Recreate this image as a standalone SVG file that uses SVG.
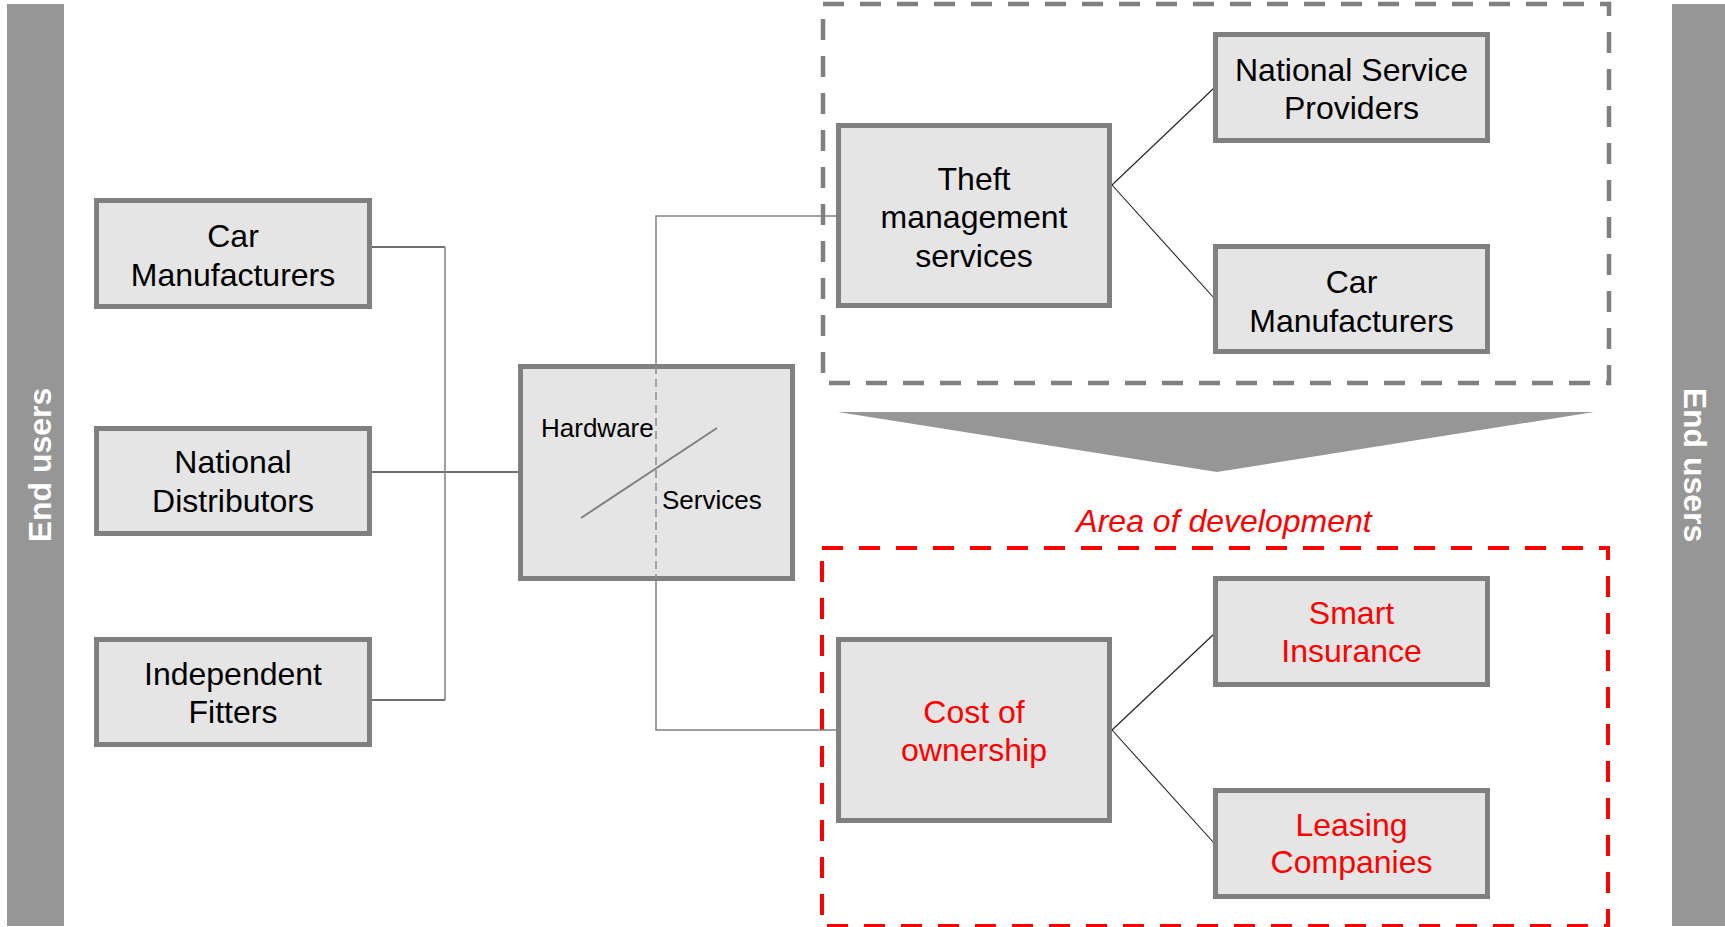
<svg xmlns="http://www.w3.org/2000/svg" width="1725" height="927" viewBox="0 0 1725 927">
<style>
.bar{fill:#969696}
.box{fill:#e5e5e5;stroke:#808080;stroke-width:5}
.t{font-family:"Liberation Sans",Arial,sans-serif;font-size:32px;fill:#000;text-anchor:middle}
.r{fill:#ff0000}
.eu{font-family:"Liberation Sans",Arial,sans-serif;font-size:32px;font-weight:bold;fill:#fff;text-anchor:middle}
.h{stroke:#404040;stroke-width:1.3;fill:none}
.v{stroke:#808080;stroke-width:1.5;fill:none}
.fan{stroke:#222;stroke-width:1.1;fill:none}
</style>
<rect width="1725" height="927" fill="#fff"/>
<g id="end-users-left">
<rect class="bar" x="7" y="4" width="57" height="922"/>
<text class="eu" transform="translate(51,465) rotate(-90)">End users</text>
</g>
<g id="end-users-right">
<rect class="bar" x="1672" y="4" width="53" height="922"/>
<text class="eu" transform="translate(1684,465) rotate(90)">End users</text>
</g>
<g id="current-area">
<rect x="823" y="4" width="786" height="379" fill="none" stroke="#808080" stroke-width="4.5" stroke-dasharray="21 16"/>
</g>
<g id="arrow">
<polygon class="bar" points="838,412 1594,412 1217,472"/>
</g>
<g id="area-of-development">
<text x="1224" y="532" font-family="'Liberation Sans',Arial,sans-serif" font-size="32" font-style="italic" fill="#ff0000" text-anchor="middle">Area of development</text>
<rect x="822" y="548" width="786" height="378" fill="none" stroke="#ff0000" stroke-width="4" stroke-dasharray="21 16"/>
</g>
<g id="connectors">
<line class="h" x1="372" y1="247" x2="445" y2="247"/>
<line class="h" x1="372" y1="472" x2="518" y2="472"/>
<line class="h" x1="372" y1="700" x2="445" y2="700"/>
<line class="v" x1="445" y1="247" x2="445" y2="700"/>
<polyline class="v" points="656,364 656,216 836,216"/>
<polyline class="v" points="656,581 656,730 836,730"/>
<line class="fan" x1="1112" y1="185" x2="1214" y2="88"/>
<line class="fan" x1="1112" y1="185" x2="1214" y2="298"/>
<line class="fan" x1="1112" y1="730" x2="1214" y2="634"/>
<line class="fan" x1="1112" y1="730" x2="1214" y2="843"/>
</g>
<g id="car-manufacturers-left">
<rect class="box" x="96.5" y="200.5" width="273" height="106"/>
<text class="t" x="233" y="247">Car</text>
<text class="t" x="233" y="286">Manufacturers</text>
</g>
<g id="national-distributors">
<rect class="box" x="96.5" y="428.5" width="273" height="105"/>
<text class="t" x="233" y="473">National</text>
<text class="t" x="233" y="512">Distributors</text>
</g>
<g id="independent-fitters">
<rect class="box" x="96.5" y="639.5" width="273" height="105"/>
<text class="t" x="233" y="685">Independent</text>
<text class="t" x="233" y="723">Fitters</text>
</g>
<g id="hardware-services">
<rect class="box" x="520.5" y="366.5" width="272" height="212"/>
<line x1="656" y1="366" x2="656" y2="579" stroke="#8c8c8c" stroke-width="1.5" stroke-dasharray="8 5"/>
<line x1="581" y1="518" x2="717" y2="428" stroke="#808080" stroke-width="2"/>
<text x="541" y="437" font-family="'Liberation Sans',Arial,sans-serif" font-size="26" fill="#000">Hardware</text>
<text x="662" y="509" font-family="'Liberation Sans',Arial,sans-serif" font-size="26" fill="#000">Services</text>
</g>
<g id="theft-management">
<rect class="box" x="838.5" y="125.5" width="271" height="180"/>
<text class="t" x="974" y="190">Theft</text>
<text class="t" x="974" y="228">management</text>
<text class="t" x="974" y="267">services</text>
</g>
<g id="national-service-providers">
<rect class="box" x="1215.5" y="34.5" width="272" height="106"/>
<text class="t" x="1351.5" y="81">National Service</text>
<text class="t" x="1351.5" y="119">Providers</text>
</g>
<g id="car-manufacturers-right">
<rect class="box" x="1215.5" y="246.5" width="272" height="105"/>
<text class="t" x="1351.5" y="293">Car</text>
<text class="t" x="1351.5" y="332">Manufacturers</text>
</g>
<g id="cost-of-ownership">
<rect class="box" x="838.5" y="639.5" width="271" height="181"/>
<text class="t r" x="974" y="723">Cost of</text>
<text class="t r" x="974" y="761">ownership</text>
</g>
<g id="smart-insurance">
<rect class="box" x="1215.5" y="578.5" width="272" height="106"/>
<text class="t r" x="1351.5" y="624">Smart</text>
<text class="t r" x="1351.5" y="662">Insurance</text>
</g>
<g id="leasing-companies">
<rect class="box" x="1215.5" y="790.5" width="272" height="106"/>
<text class="t r" x="1351.5" y="836">Leasing</text>
<text class="t r" x="1351.5" y="873">Companies</text>
</g>
</svg>
